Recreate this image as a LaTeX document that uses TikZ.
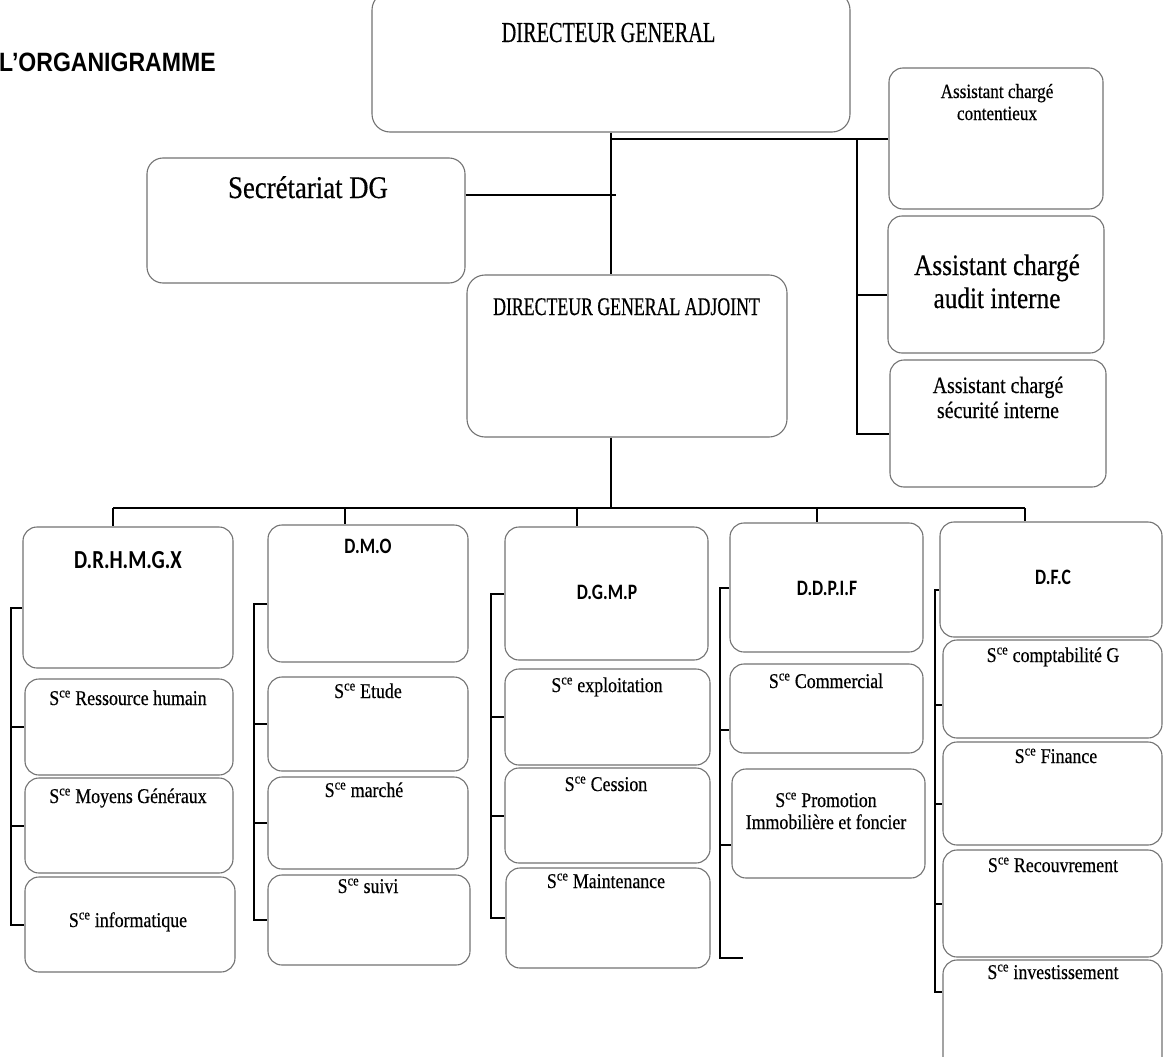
\documentclass[tikz,border=0pt]{standalone}
\usepackage{fontspec}
\setmainfont{Liberation Serif}[FakeStretch=0.85,FakeBold=0.4]
\newfontfamily\capsfont{Liberation Serif}[FakeStretch=0.7,FakeBold=0.4]
\newfontfamily\headfont{Carlito}[FakeStretch=0.8]
\newfontfamily\titlefont{Liberation Sans}[FakeStretch=0.87]
\usepackage{tikz}

\newcommand{\Sce}{S\textsuperscript{ce}}

\tikzset{box/.style={draw=black!55, line width=1.1pt, rounded corners=14pt, inner sep=0pt},
         link/.style={black, line width=2pt},
         lbl/.style={anchor=base, inner sep=0pt},
         svc/.style={lbl, font=\fontsize{21}{24}\selectfont},
         head/.style={lbl, font=\headfont\bfseries\fontsize{22}{26}\selectfont}}

\begin{document}
\begin{tikzpicture}[x=1pt,y=-1pt]

\fill[white] (0,0) rectangle (1167,1057);
\useasboundingbox (0,0) rectangle (1167,1057);

\node[lbl, anchor=base west, font=\titlefont\bfseries\fontsize{26.5}{30}\selectfont] (title) at (-1,72) {L’ORGANIGRAMME};

% direction
\node[box, minimum width=478pt, minimum height=140pt, rounded corners=18pt] (dg) at (611,62) {};
\node[box, minimum width=318pt, minimum height=125pt, rounded corners=16pt] (sec) at (306,220.5) {};
\node[box, minimum width=320pt, minimum height=162pt, rounded corners=18pt] (dga) at (627,356) {};
\node[box, minimum width=214pt, minimum height=141pt] (con) at (996,138.5) {};
\node[box, minimum width=216pt, minimum height=137pt] (aud) at (996,284.5) {};
\node[box, minimum width=216pt, minimum height=127pt] (secu) at (998,423.5) {};

\node[lbl, font=\capsfont\fontsize{29}{32}\selectfont] (t-dg) at (608.5,42) {DIRECTEUR GENERAL};
\node[lbl, font=\fontsize{31.5}{34}\selectfont] (t-sec) at (308,198) {Secrétariat DG};
\node[lbl, font=\capsfont\fontsize{25.4}{28}\selectfont] (t-dga) at (626.5,315) {DIRECTEUR GENERAL ADJOINT};
\node[lbl, font=\fontsize{20.2}{23}\selectfont] (t-con1) at (997,98) {Assistant chargé};
\node[lbl, font=\fontsize{20.2}{23}\selectfont] (t-con2) at (997,120) {contentieux};
\node[lbl, font=\fontsize{29.7}{33}\selectfont] (t-aud1) at (997,275) {Assistant chargé};
\node[lbl, font=\fontsize{29.7}{33}\selectfont] (t-aud2) at (997,308) {audit interne};
\node[lbl, font=\fontsize{23.4}{26}\selectfont] (t-secu1) at (998,393) {Assistant chargé};
\node[lbl, font=\fontsize{23.4}{26}\selectfont] (t-secu2) at (998,418) {sécurité interne};

% directions
\node[box, minimum width=210pt, minimum height=141pt] (drh) at (128,597.5) {};
\node[box, minimum width=200pt, minimum height=137pt] (dmo) at (368,593.5) {};
\node[box, minimum width=203pt, minimum height=133pt] (dgmp) at (606.5,593.5) {};
\node[box, minimum width=193pt, minimum height=129pt] (ddpif) at (826.5,587.5) {};
\node[box, minimum width=222pt, minimum height=115pt] (dfc) at (1051,579.5) {};

\node[head, font=\headfont\bfseries\fontsize{26}{30}\selectfont] (t-drh) at (128,568) {D.R.H.M.G.X};
\node[head] (t-dmo) at (368,553) {D.M.O};
\node[head] (t-dgmp) at (607,599) {D.G.M.P};
\node[head] (t-ddpif) at (827,595) {D.D.P.I.F};
\node[head] (t-dfc) at (1053,584) {D.F.C};

% services
\node[box, minimum width=208pt, minimum height=96pt] (rh) at (129,727) {};
\node[box, minimum width=208pt, minimum height=95pt] (mg) at (129,825.5) {};
\node[box, minimum width=210pt, minimum height=95pt] (inf) at (130,924.5) {};

\node[box, minimum width=200pt, minimum height=94pt] (etu) at (368,724) {};
\node[box, minimum width=200pt, minimum height=92pt] (mar) at (368,823) {};
\node[box, minimum width=202pt, minimum height=90pt] (sui) at (369,920) {};

\node[box, minimum width=205pt, minimum height=96pt] (exp) at (607.5,717) {};
\node[box, minimum width=205pt, minimum height=95pt] (ces) at (607.5,815.5) {};
\node[box, minimum width=204pt, minimum height=100pt] (mai) at (608,918) {};

\node[box, minimum width=193pt, minimum height=89pt] (com) at (826.5,708.5) {};
\node[box, minimum width=193pt, minimum height=109pt] (pro) at (828.5,823.5) {};

\node[box, minimum width=219pt, minimum height=98pt] (cpt) at (1052.5,689) {};
\node[box, minimum width=219pt, minimum height=103pt] (fin) at (1052.5,793.5) {};
\node[box, minimum width=219pt, minimum height=107pt] (rec) at (1052.5,903.5) {};
\node[box, minimum width=219pt, minimum height=130pt] (inv) at (1052.5,1025) {};

\node[svc] (t-rh) at (128,705) {\Sce{} Ressource humain};
\node[svc] (t-mg) at (128,803) {\Sce{} Moyens Généraux};
\node[svc] (t-inf) at (128,927) {\Sce{} informatique};
\node[svc] (t-etu) at (368,698) {\Sce{} Etude};
\node[svc] (t-mar) at (364,797) {\Sce{} marché};
\node[svc] (t-sui) at (368,893) {\Sce{} suivi};
\node[svc] (t-exp) at (607,692) {\Sce{} exploitation};
\node[svc] (t-ces) at (606,791) {\Sce{} Cession};
\node[svc] (t-mai) at (606,888) {\Sce{} Maintenance};
\node[svc] (t-com) at (826,688) {\Sce{} Commercial};
\node[svc] (t-pro1) at (826,807) {\Sce{} Promotion};
\node[svc] (t-pro2) at (826,829) {Immobilière et foncier};
\node[svc] (t-cpt) at (1053,662) {\Sce{} comptabilité G};
\node[svc] (t-fin) at (1056,763) {\Sce{} Finance};
\node[svc] (t-rec) at (1053,872) {\Sce{} Recouvrement};
\node[svc] (t-inv) at (1053,979) {\Sce{} investissement};

% liaisons du haut
\draw[link] (dg.south) -- (dg.south |- dga.north);
\coordinate (s1) at ([yshift=26pt]sec.east);
\draw[link] (s1) -- ([xshift=5pt]s1 -| dg.south);
\draw[link] (con.west -| dg.south) -- (con.west);

\coordinate (v0) at (857,0);
\coordinate (a2) at ([yshift=-10pt]aud.west);
\coordinate (a3) at ([yshift=-10pt]secu.west);
\draw[link] (con.west -| v0) |- (a3);
\draw[link] (a2 -| v0) -- (a2);

% barre des directions
\coordinate (b1) at (113,508);
\coordinate (b2) at (345,508);
\coordinate (b3) at (577,508);
\coordinate (b4) at (817,508);
\coordinate (b5) at (1025,508);
\draw[link] (dga.south -| dg.south) -- (dg.south |- b1);
\draw[link] (b1) -- (b5);
\foreach \b/\d in {b1/drh,b2/dmo,b3/dgmp,b4/ddpif,b5/dfc}
{
\draw[link] (\b) -- (\b |- \d.north);
}

% D.R.H.M.G.X
\coordinate (v1) at (11,0);
\coordinate (h1) at ([yshift=-10pt]drh.west);
\draw[link] (h1) -- (h1 -| v1) |- (inf.west);
\foreach \b in {rh,mg}
{
\draw[link] (\b.west -| v1) -- (\b.west);
}

% D.M.O
\coordinate (v2) at (254,0);
\coordinate (h2) at ([yshift=-10pt]dmo.west);
\draw[link] (h2) -- (h2 -| v2) |- (sui.west);
\foreach \b in {etu,mar}
{
\draw[link] (\b.west -| v2) -- (\b.west);
}

% D.G.M.P
\coordinate (v3) at (491,0);
\draw[link] (dgmp.west) -- (dgmp.west -| v3) |- (mai.west);
\foreach \b in {exp,ces}
{
\draw[link] (\b.west -| v3) -- (\b.west);
}

% D.D.P.I.F
\coordinate (v4) at (720,0);
\coordinate (e4) at (743,958);
\coordinate (h4a) at ([yshift=-21pt]com.west);
\coordinate (h4b) at ([yshift=-21pt]pro.west);
\draw[link] (ddpif.west) -- (ddpif.west -| v4) |- (e4);
\draw[link] (h4a -| v4) -- (h4a);
\draw[link] (h4b -| v4) -- (h4b);

% D.F.C
\coordinate (v5) at (935,0);
\coordinate (h5) at ([yshift=-10pt]dfc.west);
\coordinate (h5a) at ([yshift=-16pt]cpt.west);
\coordinate (h5b) at ([yshift=-10pt]fin.west);
\coordinate (h5c) at (rec.west);
\coordinate (h5d) at ([yshift=33pt]inv.west);
\draw[link] (h5) -- (h5 -| v5) |- (h5d);
\foreach \b in {h5a,h5b,h5c}
{
\draw[link] (\b -| v5) -- (\b);
}

\end{tikzpicture}
\end{document}
